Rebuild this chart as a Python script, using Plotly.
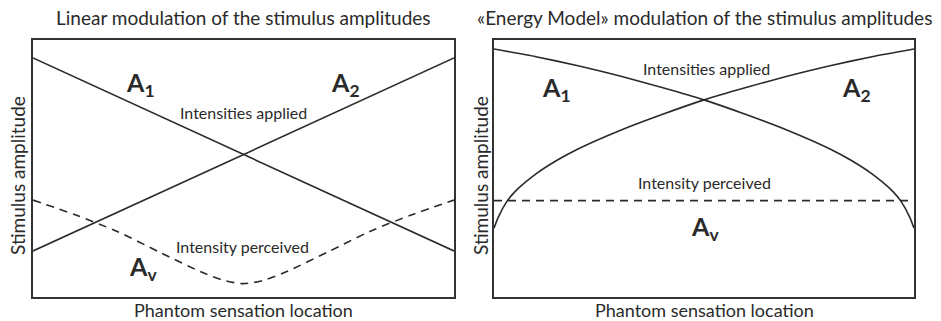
import plotly.graph_objects as go
from plotly.subplots import make_subplots

# Positions along the phantom sensation axis (0 = actuator 1, 1 = actuator 2)
x_lin = [0, 1]
a1_lin = [0.93, 0.179]
a2_lin = [0.179, 0.93]

x_av_lin = [0, 0.1, 0.2, 0.3, 0.4, 0.45, 0.5, 0.55, 0.6, 0.7, 0.8, 0.9, 1]
av_lin = [0.377, 0.32, 0.255, 0.175, 0.097, 0.066, 0.052, 0.066, 0.097, 0.175, 0.255, 0.32, 0.377]

x_energy = [0, 0.1, 0.2, 0.3, 0.4, 0.5, 0.6, 0.7, 0.8, 0.85, 0.9, 0.95, 0.97, 0.99, 1]
a1_energy = [0.965, 0.935, 0.9, 0.86, 0.815, 0.767, 0.71, 0.648, 0.576, 0.532, 0.479, 0.41, 0.37, 0.31, 0.268]
a2_energy = [0.268, 0.31, 0.37, 0.41, 0.479, 0.532, 0.576, 0.648, 0.71, 0.767, 0.815, 0.86, 0.9, 0.935, 0.965]
x_energy_a2 = [0, 0.01, 0.03, 0.05, 0.1, 0.15, 0.2, 0.3, 0.4, 0.5, 0.6, 0.7, 0.8, 0.9, 1]
av_energy = [0.375, 0.375]

titles = ["Linear modulation of the stimulus amplitudes",
          "«Energy Model» modulation of the stimulus amplitudes"]

ink = "#2a2a2a"
font = "Lato"
solid = dict(color=ink, width=1.6)
dashed = dict(color=ink, width=1.6, dash="8px,6px")

fig = make_subplots(rows=1, cols=2)

# Left panel: linear
fig.add_trace(go.Scatter(x=x_lin, y=a1_lin, mode="lines", line=solid), 1, 1)
fig.add_trace(go.Scatter(x=x_lin, y=a2_lin, mode="lines", line=solid), 1, 1)
fig.add_trace(go.Scatter(x=x_av_lin, y=av_lin, mode="lines",
                         line=dict(dashed, shape="spline", smoothing=0.8)), 1, 1)

# Right panel: energy model
fig.add_trace(go.Scatter(x=x_energy, y=a1_energy, mode="lines",
                         line=dict(solid, shape="spline", smoothing=0.6)), 1, 2)
fig.add_trace(go.Scatter(x=x_energy_a2, y=a2_energy, mode="lines",
                         line=dict(solid, shape="spline", smoothing=0.6)), 1, 2)
fig.add_trace(go.Scatter(x=x_lin, y=av_energy, mode="lines", line=dashed), 1, 2)

axis_style = dict(range=[0, 1], showgrid=False, zeroline=False, showticklabels=False,
                  ticks="", showline=True, mirror=True, linecolor="#333", linewidth=2)
ydom = [1 - 297 / 321, 1 - 40 / 321]
fig.update_layout(
    xaxis=dict(axis_style, domain=[33 / 941, 454 / 941]),
    xaxis2=dict(axis_style, domain=[494 / 941, 914 / 941]),
    yaxis=dict(axis_style, domain=ydom),
    yaxis2=dict(axis_style, domain=ydom),
)

# in-plot labels
labels = [
    ("x", "y", 0.256, 0.829, "<b>A</b><b><sub>1</sub></b>", 25),
    ("x", "y", 0.743, 0.829, "<b>A</b><b><sub>2</sub></b>", 25),
    ("x", "y", 0.499, 0.716, "Intensities applied", 16),
    ("x", "y", 0.497, 0.195, "Intensity perceived", 16),
    ("x", "y", 0.261, 0.113, "<b>A</b><b><sub>v</sub></b>", 25),
    ("x2", "y2", 0.148, 0.809, "<b>A</b><b><sub>1</sub></b>", 25),
    ("x2", "y2", 0.862, 0.809, "<b>A</b><b><sub>2</sub></b>", 25),
    ("x2", "y2", 0.505, 0.891, "Intensities applied", 16),
    ("x2", "y2", 0.502, 0.447, "Intensity perceived", 16),
    ("x2", "y2", 0.502, 0.268, "<b>A</b><b><sub>v</sub></b>", 25),
]
for xr, yr, lx, ly, txt, size in labels:
    fig.add_annotation(xref=xr, yref=yr, x=lx, y=ly, text=txt, showarrow=False,
                       xanchor="center", yanchor="middle",
                       font=dict(family=font, size=size, color=ink))

# panel titles and axis titles
for cx, title in zip([243.5 / 941, 704 / 941], titles):
    fig.add_annotation(xref="paper", yref="paper", x=cx, y=1 - 17 / 321, text=title,
                       showarrow=False, xanchor="center", yanchor="middle",
                       font=dict(family=font, size=19, color=ink))
    fig.add_annotation(xref="paper", yref="paper", x=cx, y=1 - 310 / 321,
                       text="Phantom sensation location", showarrow=False,
                       xanchor="center", yanchor="middle",
                       font=dict(family=font, size=18, color=ink))
for yx in [18 / 941, 481 / 941]:
    fig.add_annotation(xref="paper", yref="paper", x=yx, y=1 - 176 / 321,
                       text="Stimulus amplitude", textangle=-90, showarrow=False,
                       xanchor="center", yanchor="middle",
                       font=dict(family=font, size=19, color=ink))

fig.update_layout(
    width=941, height=321,
    margin=dict(l=0, r=0, t=0, b=0),
    paper_bgcolor="white", plot_bgcolor="white",
    showlegend=False,
)

fig.write_html("out.html", config={"displayModeBar": False},
               post_script="document.body.style.margin = '0';")
